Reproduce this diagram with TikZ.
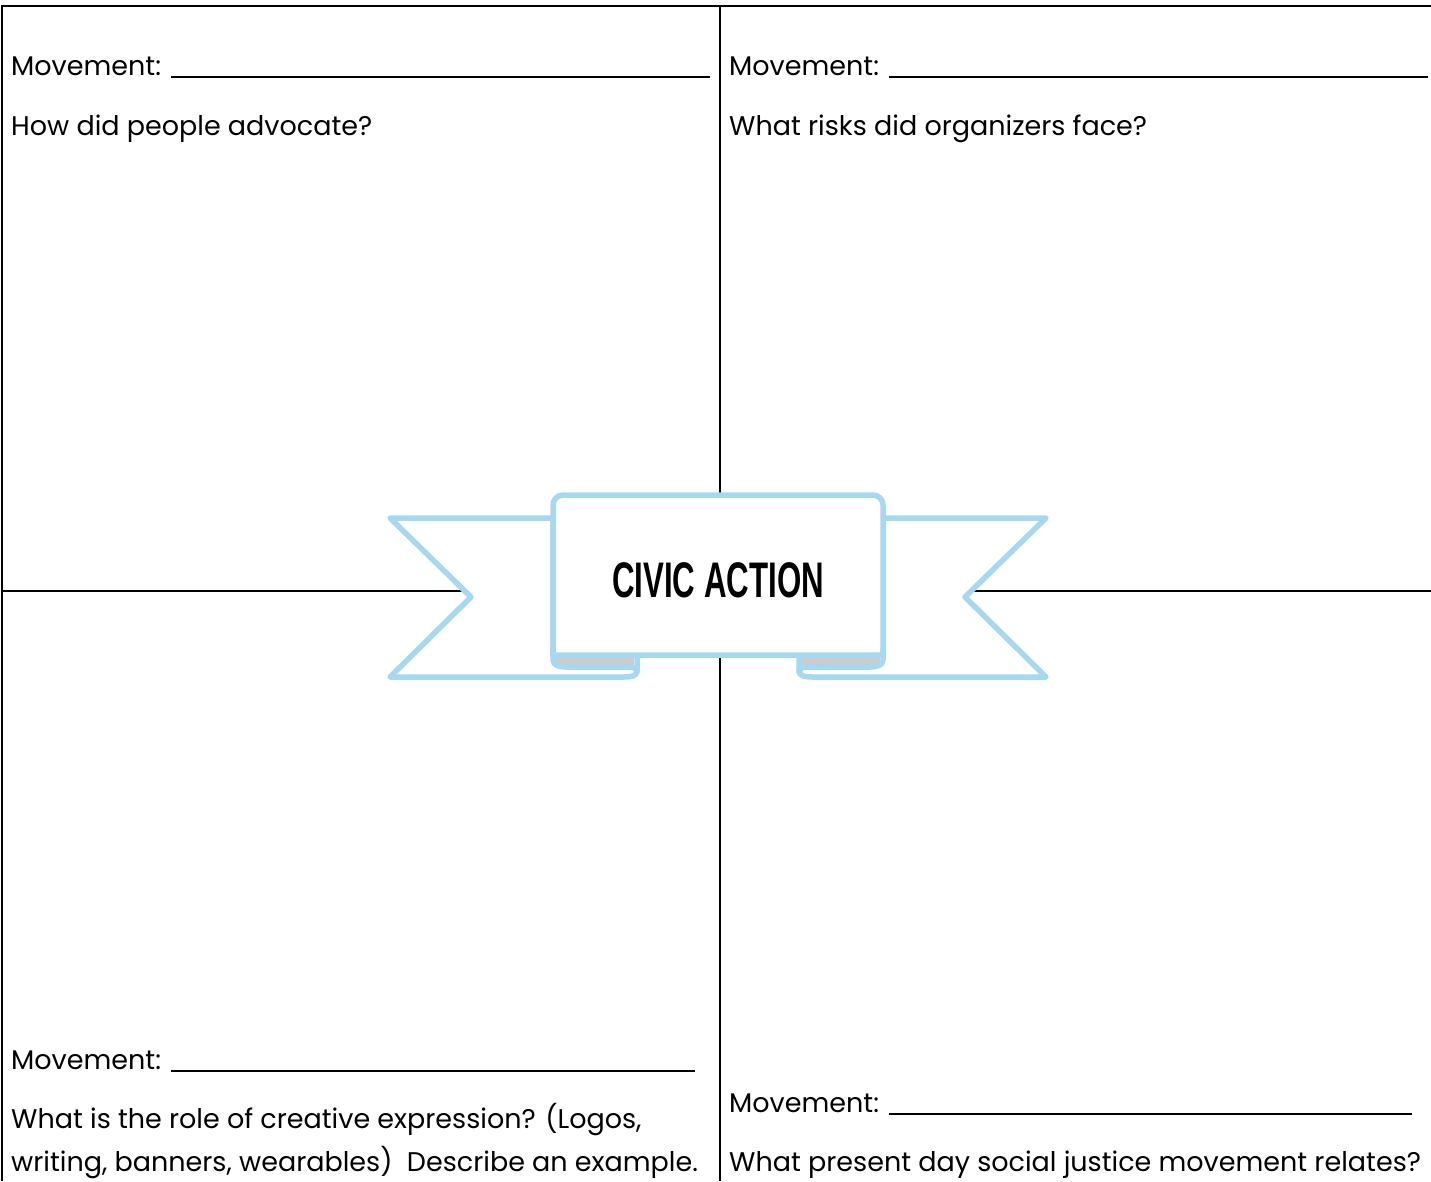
\documentclass[tikz,border=0pt]{standalone}
\usepackage{fontspec}
\setmainfont{Poppins}
\newfontfamily\bannerfont{Liberation Sans}
\definecolor{ribbon}{RGB}{166,216,242}
\definecolor{curlgray}{RGB}{204,204,204}
\begin{document}
\begin{tikzpicture}[x=1pt,y=-1pt,
  gridline/.style={line width=2pt, black},
  rib/.style={draw=ribbon, line width=5.5pt, line join=round, line cap=round},
  lbl/.style={anchor=base west, inner sep=0pt, font=\fontsize{27}{32}\selectfont},
  blank/.style={line width=1.8pt, black},
]
\useasboundingbox (0,0) rectangle (1431,1181);
% grid
\draw[gridline] (1431,6) -- (2,6) -- (2,1181);
\draw[gridline] (720,6) -- (720,1181);
\draw[gridline] (2,591) -- (1431,591);

% ribbon tails
\filldraw[rib, fill=white] (553,518) -- (390,518) -- (471,597) -- (390,677) -- (624,677)
   to[out=0,in=-90] (637,671) -- (637,655) -- (553,655) -- cycle;
\filldraw[rib, fill=white] (883,518) -- (1046,518) -- (965,597) -- (1046,677) -- (812,677)
   to[out=180,in=-90] (799,671) -- (799,655) -- (883,655) -- cycle;
% grey curl insides
\fill[curlgray] (556,657) rectangle (634,665);
\fill[curlgray] (802,657) rectangle (880,665);
% central panel
\filldraw[rib, fill=white] (553,655) [rounded corners=10pt] -- (553,495) -- (883,495) [sharp corners] -- (883,655) -- cycle;
% curl lines
\draw[rib] (553,650) -- (553,660) to[out=-90,in=180] (566,667) -- (624,667) to[out=0,in=90] (637,672);
\draw[rib] (883,650) -- (883,660) to[out=-90,in=0] (870,667) -- (812,667) to[out=180,in=90] (799,672);

\node[inner sep=0pt, anchor=base] (title) at (718,597)
  {\scalebox{0.625}[1]{\bannerfont\bfseries\fontsize{50}{50}\selectfont CIVIC ACTION}};

% top-left
\node[lbl] (tlm) at (11,75) {Movement:};
\draw[blank] ([xshift=10pt,yshift=-2pt]tlm.base east) -- (710,77);
\node[lbl] (tlq) at (11,135) {How did people advocate?};
% top-right
\node[lbl] (trm) at (729,75) {Movement:};
\draw[blank] ([xshift=10pt,yshift=-2pt]trm.base east) -- (1428,77);
\node[lbl] (trq) at (729,135) {What risks did organizers face?};
% bottom-left
\node[lbl] (blm) at (11,1069) {Movement:};
\draw[blank] ([xshift=10pt,yshift=-2pt]blm.base east) -- (695,1071);
\node[lbl] (blq1) at (11,1128) {What is the role of creative expression? (Logos,};
\node[lbl] (blq2) at (11,1171) {writing, banners, wearables)\ \ Describe an example.};
% bottom-right
\node[lbl] (brm) at (729,1112) {Movement:};
\draw[blank] ([xshift=10pt,yshift=-2pt]brm.base east) -- (1412,1114);
\node[lbl] (brq) at (729,1171) {What present day social justice movement relates?};
\end{tikzpicture}
\end{document}
